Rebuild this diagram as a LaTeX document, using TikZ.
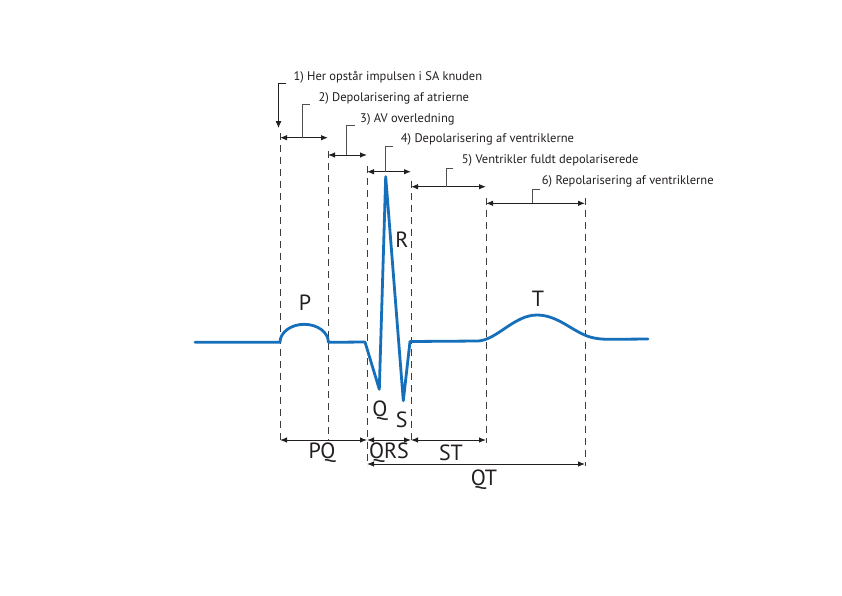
\documentclass[tikz,border=0pt]{standalone}
\usepackage{fontspec}
\setmainfont{PT Sans}
\usetikzlibrary{arrows.meta}
\definecolor{ecgblue}{RGB}{22,111,186}
\definecolor{ink}{RGB}{35,31,32}
\definecolor{stemgray}{RGB}{80,80,80}
\definecolor{dashgray}{RGB}{60,60,60}
\tikzset{
  ecg/.style={draw=ecgblue, line width=2.8pt, line join=round, line cap=round},
  guide/.style={draw=dashgray, line width=1pt, dash pattern=on 7pt off 5pt},
  span/.style={draw=ink, line width=1pt, {Latex[length=7pt,width=5.5pt]}-{Latex[length=7pt,width=5.5pt]}},
  stem/.style={draw=stemgray, line width=1pt},
  pointer/.style={draw=ink, line width=1pt, -{Latex[length=7pt,width=6pt]}},
  note/.style={anchor=west, inner sep=0pt, text=ink, font=\fontsize{12.5}{14}\selectfont},
  wavelabel/.style={inner sep=0pt, text=ink, font=\fontsize{22}{26}\selectfont},
}
\begin{document}
\begin{tikzpicture}[x=1pt,y=-1pt]
\fill[white] (0,0) rectangle (842,595);
\useasboundingbox (0,0) rectangle (842,595);

% guide line end points
\coordinate (g1t) at (280,133);   \coordinate (g1b) at (280,443);
\coordinate (g2t) at (328,151);   \coordinate (g2b) at (328,441);
\coordinate (g3t) at (367,166);   \coordinate (g3b) at (367,466);
\coordinate (g4t) at (411,181);   \coordinate (g4b) at (411,443);
\coordinate (g5t) at (486,198);   \coordinate (g5b) at (486,443);
\coordinate (g6t) at (585,198);   \coordinate (g6b) at (585,466);

\foreach \g in {1,...,6} { \draw[guide] (g\g t) -- (g\g b); }

% top spans
\coordinate (s2l) at (280,137.7); \coordinate (s2r) at (328,137.7);
\coordinate (s3l) at (328,155);   \coordinate (s3r) at (367,155);
\coordinate (s4l) at (367,171.7); \coordinate (s4r) at (411,171.7);
\coordinate (s5l) at (411,186.7); \coordinate (s5r) at (486,186.7);
\coordinate (s6l) at (486,203.3); \coordinate (s6r) at (585,203.3);
\draw[span] (s2l) -- (s2r);
\draw[span] (s3l) -- (s3r);
\draw[span] (s4l) -- (s4r);
\draw[span] (s5l) -- (s5r);
\draw[span] (s6l) -- (s6r);

% notes
\node[note] (n1) at (293.3,77.5) {1) Her opstår impulsen i SA knuden};
\node[note] (n2) at (318.3,98.5) {2) Depolarisering af atrierne};
\node[note] (n3) at (360,119) {3) AV overledning};
\node[note] (n4) at (400.7,139.5) {4) Depolarisering af ventriklerne};
\node[note] (n5) at (461.7,160) {5) Ventrikler fuldt depolariserede};
\node[note] (n6) at (541.7,181.5) {6) Repolarisering af ventriklerne};

% stems
\coordinate (p1a) at (286,83.3);  \coordinate (p1b) at (278.5,83.3); \coordinate (p1c) at (278.5,128);
\draw[pointer] (p1a) -- (p1b) -- (p1c);
\coordinate (t2a) at (310,104.3); \coordinate (t2b) at (302.7,104.3); \coordinate (t2c) at (302.7,137.7);
\draw[stem] (t2a) -- (t2b) -- (t2c);
\coordinate (t3a) at (355,125);   \coordinate (t3b) at (346.7,125);   \coordinate (t3c) at (346.7,155);
\draw[stem] (t3a) -- (t3b) -- (t3c);
\coordinate (t4a) at (393,146.7); \coordinate (t4b) at (385.7,146.7); \coordinate (t4c) at (385.7,171.7);
\draw[stem] (t4a) -- (t4b) -- (t4c);
\coordinate (t5a) at (453.3,168.3); \coordinate (t5b) at (446,168.3); \coordinate (t5c) at (446,186.7);
\draw[stem] (t5a) -- (t5b) -- (t5c);
\coordinate (t6a) at (540,189.3); \coordinate (t6b) at (532.7,189.3); \coordinate (t6c) at (532.7,203.3);
\draw[stem] (t6a) -- (t6b) -- (t6c);

% bottom spans
\coordinate (b1) at (280,440); \coordinate (b2) at (367,440);
\coordinate (b3) at (411,440); \coordinate (b4) at (486,440);
\coordinate (q1) at (367,464); \coordinate (q2) at (585,464);
\draw[span] (b1) -- (b2);
\draw[span] (b2) -- (b3);
\draw[span] (b3) -- (b4);
\draw[span] (q1) -- (q2);

\node[wavelabel] (lPQ) at (322,453) {PQ};
\node[wavelabel] (lQRS) at (389,453) {QRS};
\node[wavelabel] (lST) at (451,453) {ST};
\node[wavelabel] (lQT) at (484,480) {QT};

% ECG trace
\draw[ecg] (195,342.3) -- (280,342.3)
  arc[start angle=180, end angle=360, x radius=24.2, y radius=18]
  -- (365,342) -- (379.3,389.3) -- (385.7,176.7) -- (403.3,400.7) -- (410,341.5)
  -- (478,341) .. controls (497,340) and (514,315) .. (537,315)
  .. controls (558,315) and (573,332) .. (590,337)
  .. controls (597,339) and (603,339.3) .. (612,339.3) -- (648,339);

\node[wavelabel] (lP) at (305,303) {P};
\node[wavelabel] (lT) at (538,299) {T};
\node[wavelabel] (lR) at (402,240) {R};
\node[wavelabel] (lQ) at (380,411) {Q};
\node[wavelabel] (lS) at (401.7,420) {S};
\end{tikzpicture}
\end{document}
